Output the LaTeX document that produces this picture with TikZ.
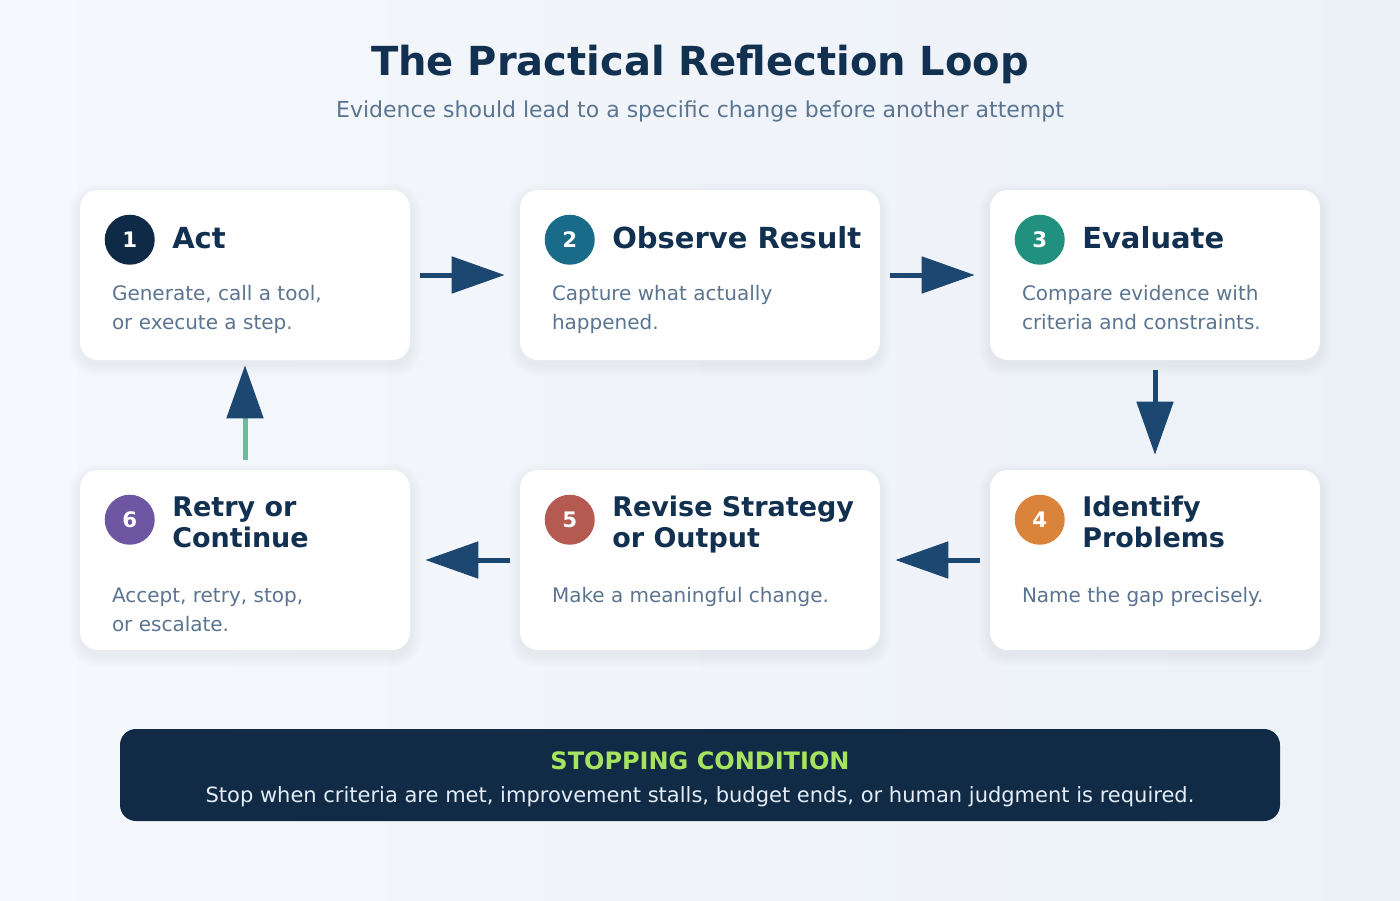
\documentclass[tikz,border=0pt]{standalone}
\usepackage{fontspec}
\setmainfont{DejaVu Sans}
\usetikzlibrary{arrows.meta,positioning,backgrounds}
\definecolor{navy}{HTML}{12304F}
\definecolor{slate}{HTML}{5B7591}
\definecolor{arrowc}{HTML}{1B4770}
\definecolor{bgA}{HTML}{F5F8FC}
\definecolor{bgB}{HTML}{ECF1F8}
\definecolor{c1}{HTML}{0F2A47}
\definecolor{c2}{HTML}{1A6A8A}
\definecolor{c3}{HTML}{22907F}
\definecolor{c4}{HTML}{D9843A}
\definecolor{c5}{HTML}{B45A50}
\definecolor{c6}{HTML}{6F56A3}
\definecolor{stopbg}{HTML}{112B47}
\definecolor{stopgreen}{HTML}{A6E35E}
\definecolor{stoptext}{HTML}{E4ECF5}
\definecolor{retryc}{HTML}{6DB99A}
\begin{document}
\begin{tikzpicture}[x=0.75pt,y=-0.75pt,
	card/.style={fill=white,rounded corners=13.5pt,minimum height=127.5pt,minimum width=247.5pt},
	numdot/.style={circle,minimum size=37.5pt,inner sep=0pt,text=white,font=\bfseries\fontsize{16}{16}\selectfont},
	head/.style={anchor=west,align=left,text=navy,inner sep=0pt,font=\bfseries\fontsize{21.75}{23.25}\selectfont},
	head2/.style={head,font=\bfseries\fontsize{20.25}{23.25}\selectfont},
	body/.style={anchor=base west,align=left,text=slate,inner sep=0pt,font=\fontsize{15}{21.75}\selectfont},
	flow/.style={draw=arrowc,line width=3.75pt,shorten <=7.5pt,shorten >=11.25pt,
		-{Triangle[length=39.75pt,width=27pt]}}]
	\useasboundingbox (0,0) rectangle (1400,900);
	% title
	\node[text=navy,font=\bfseries\fontsize{30}{32}\selectfont] (title) at (700,64) {The Practical Reflection Loop};
	\node[text=slate,font=\fontsize{16.5}{18}\selectfont] (subtitle) at (700,111) {Evidence should lead to a specific change before another attempt};
	% cards
	\node[card] (act) at (245,275) {};
	\node[card,minimum width=270pt] (observe) at (700,275) {};
	\node[card] (evaluate) at (1155,275) {};
	\node[card,minimum height=135pt] (retry) at (245,560) {};
	\node[card,minimum height=135pt,minimum width=270pt] (revise) at (700,560) {};
	\node[card,minimum height=135pt] (identify) at (1155,560) {};
	\begin{scope}[on background layer]
		\shade[left color=bgA,right color=bgB] (0,0) rectangle (1400,900);
		\foreach \c in {act,observe,evaluate,retry,revise,identify}
			\foreach \k in {1,...,12}
				\fill[navy,opacity=0.0055,rounded corners=13.5pt+0.75*\k]
					([shift={(-\k,-\k+5)}]\c.north west) rectangle ([shift={(\k,\k+5)}]\c.south east);
	\end{scope}
	% top row
	\node[numdot,fill=c1] (n1) at ([shift={(50,50)}]act.north west) {1};
	\node[head] (h1) at ([shift={(17,-2)}]n1.east) {Act};
	\node[body] (b1) at ([shift={(32,140)}]act.north west) {Generate, call a tool,\\or execute a step.};
	\node[numdot,fill=c2] (n2) at ([shift={(50,50)}]observe.north west) {2};
	\node[head] (h2) at ([shift={(17,-2)}]n2.east) {Observe Result};
	\node[body] (b2) at ([shift={(32,140)}]observe.north west) {Capture what actually\\happened.};
	\node[numdot,fill=c3] (n3) at ([shift={(50,50)}]evaluate.north west) {3};
	\node[head] (h3) at ([shift={(17,-2)}]n3.east) {Evaluate};
	\node[body] (b3) at ([shift={(32,140)}]evaluate.north west) {Compare evidence with\\criteria and constraints.};
	% bottom row
	\node[numdot,fill=c4] (n4) at ([shift={(50,50)}]identify.north west) {4};
	\node[head2] (h4) at ([shift={(17,2)}]n4.east) {Identify\\Problems};
	\node[body] (b4) at ([shift={(32,133)}]identify.north west) {Name the gap precisely.};
	\node[numdot,fill=c5] (n5) at ([shift={(50,50)}]revise.north west) {5};
	\node[head2] (h5) at ([shift={(17,5)}]n5.east) {Revise Strategy\\or Output};
	\node[body] (b5) at ([shift={(32,133)}]revise.north west) {Make a meaningful change.};
	\node[numdot,fill=c6] (n6) at ([shift={(50,50)}]retry.north west) {6};
	\node[head2] (h6) at ([shift={(17,3)}]n6.east) {Retry or\\Continue};
	\node[body] (b6) at ([shift={(32,162)}]retry.north west) {Accept, retry, stop,\\or escalate.};
	% loop arrows
	\draw[flow] (act) -- (observe);
	\draw[flow] (observe) -- (evaluate);
	\draw[flow] (evaluate) -- (identify);
	\draw[flow] (identify) -- (revise);
	\draw[flow] (revise) -- (retry);
	\draw[flow,draw=retryc,shorten >=3.75pt,-{Triangle[length=39.75pt,width=27pt,color=arrowc]}] (retry) -- (act);
	% stopping condition
	\node[fill=stopbg,rounded corners=12pt,minimum width=870pt,minimum height=69pt] (stop) at (700,775) {};
	\node[anchor=base,text=stopgreen,font=\bfseries\fontsize{18}{20}\selectfont] (stophead) at (700,769) {STOPPING CONDITION};
	\node[anchor=base,text=stoptext,font=\fontsize{15.75}{18}\selectfont] (stopbody) at (700,802) {Stop when criteria are met, improvement stalls, budget ends, or human judgment is required.};
\end{tikzpicture}
\end{document}
